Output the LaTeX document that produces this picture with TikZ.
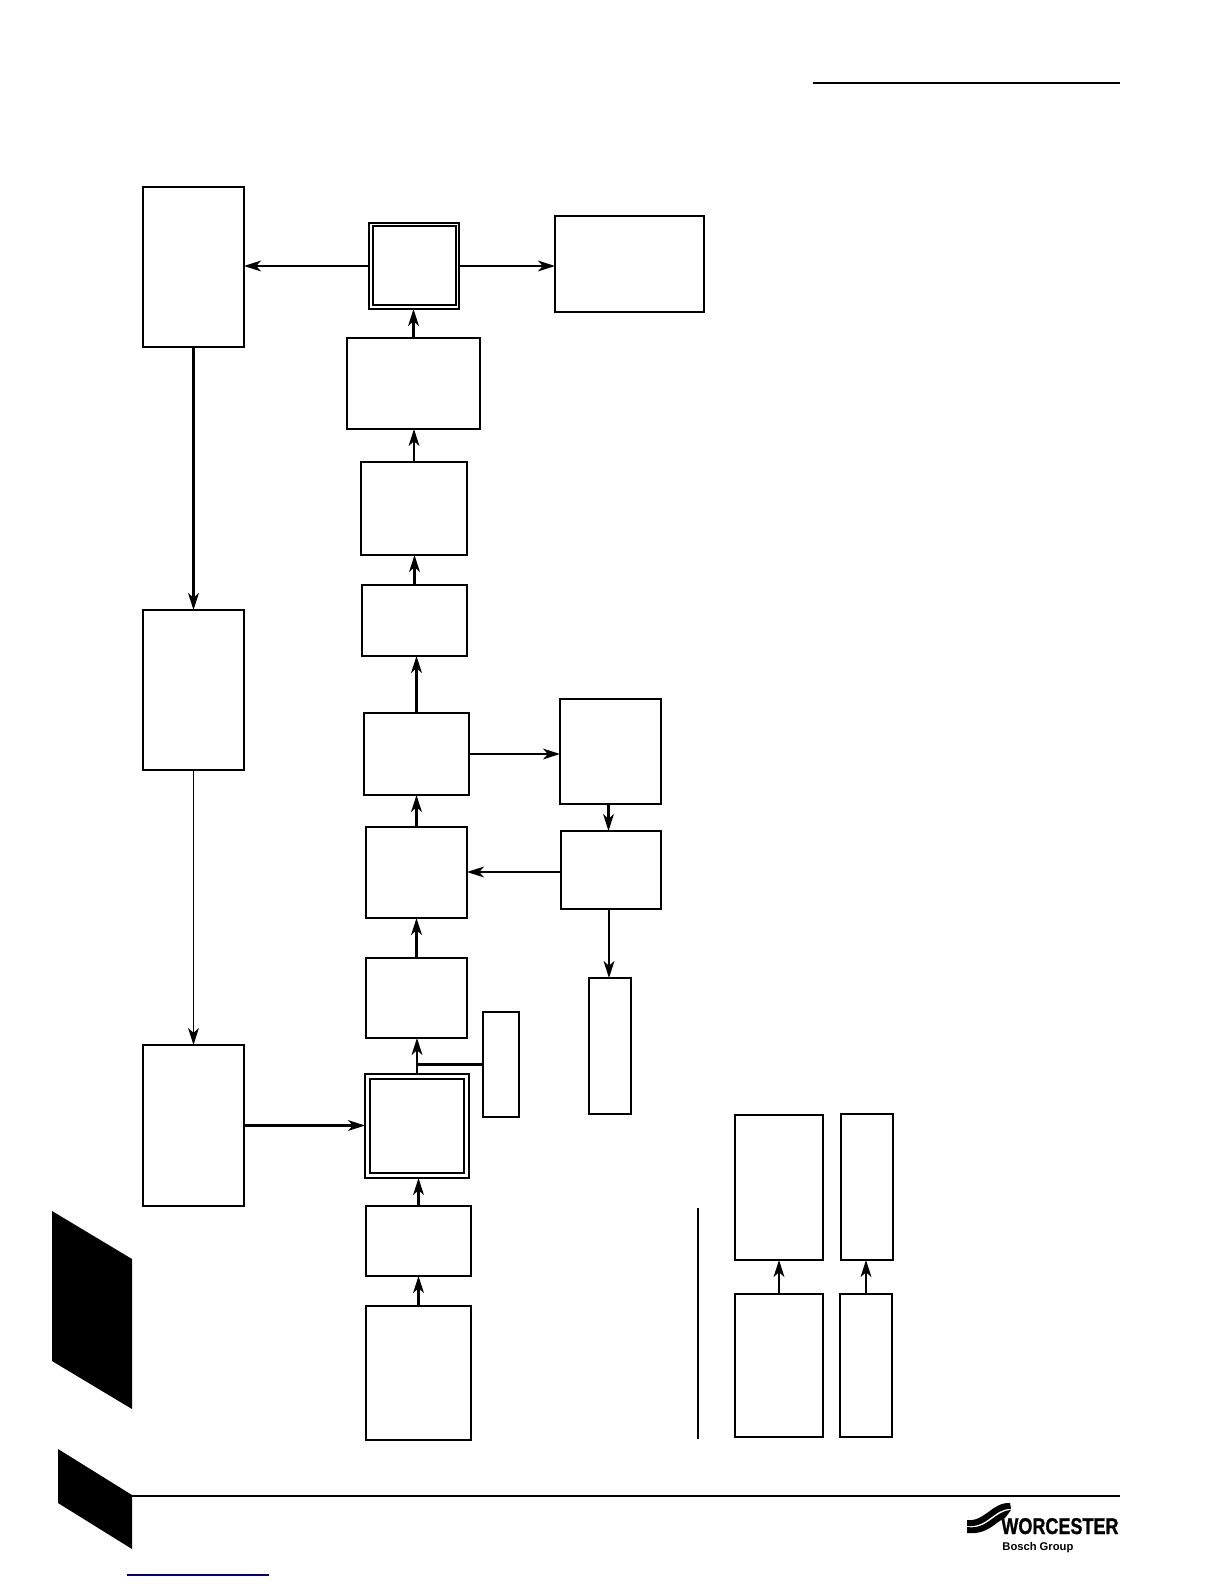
\documentclass[tikz,border=0pt]{standalone}
\usepackage{fontspec}
\setmainfont{Liberation Sans}
\usetikzlibrary{arrows.meta,fit}
\tikzset{
  flowbox/.style={draw,line width=1.3pt,inner sep=0pt,outer sep=0pt},
  thinbox/.style={flowbox,line width=0.7pt},
  heavybox/.style={flowbox,line width=1.45pt},
  flowline/.style={->,line width=1.1pt},
  thinline/.style={->,line width=0.6pt},
  rule/.style={line width=1.2pt}
}
\begin{document}
\begin{tikzpicture}[x=0.5pt,y=-0.5pt,>={Stealth[length=8.5pt,width=5.4pt,inset=2.4pt]}]
\useasboundingbox (0,0) rectangle (1224,1584);

% page furniture
\draw[rule] (813,83) -- (1120,83);
\draw[rule] (132,1496) -- (1120,1496);
\fill (52,1211) -- (132,1259) -- (132,1409) -- (52,1361) -- cycle;
\fill (58,1449) -- (132,1495) -- (132,1549) -- (58,1503) -- cycle;
\draw[line width=0.8pt,blue!50!black] (127,1575) -- (269,1575);

% left column
\node[flowbox,fit={(143,187) (244,347)}] (leftTop) {};
\node[flowbox,fit={(143,610) (244,770)}] (leftMid) {};
\node[flowbox,fit={(143,1045) (244,1206)}] (leftLow) {};

% centre column
\node[flowbox,fit={(369,223) (459,309)}] (endOuter) {};
\node[flowbox,fit={(373,226) (456,305)}] (endInner) {};
\node[flowbox,fit={(555,216) (704,312)}] (endRight) {};
\node[flowbox,fit={(347,338) (480,429)}] (stepA) {};
\node[flowbox,fit={(361,462) (467,555)}] (stepB) {};
\node[thinbox,fit={(362,585) (467,656)}] (stepC) {};
\node[flowbox,fit={(364,713) (469,795)}] (stepD) {};
\node[flowbox,fit={(366,827) (467,918)}] (stepE) {};
\node[flowbox,fit={(366,958) (467,1038)}] (stepF) {};
\node[heavybox,fit={(365,1074) (469,1178)}] (startOuter) {};
\node[heavybox,fit={(370,1079) (464,1173)}] (startInner) {};
\node[flowbox,fit={(366,1206) (471,1276)}] (stepG) {};
\node[flowbox,fit={(366,1306) (471,1440)}] (stepH) {};

% side boxes
\node[flowbox,fit={(483,1012) (519,1117)}] (tapBox) {};
\node[flowbox,fit={(560,699) (661,804)}] (sideA) {};
\node[flowbox,fit={(561,831) (661,909)}] (sideB) {};
\node[flowbox,fit={(589,978) (631,1114)}] (sideC) {};

% bottom right boxes
\node[flowbox,fit={(735,1115) (823,1260)}] (keyA) {};
\node[flowbox,fit={(841,1114) (893,1260)}] (keyB) {};
\node[flowbox,fit={(735,1294) (823,1437)}] (keyC) {};
\node[flowbox,fit={(840,1294) (892,1437)}] (keyD) {};
\coordinate (keyRuleTop) at (698,1208);
\coordinate (keyRuleEnd) at (698,1439);
\draw[rule] (keyRuleTop) -- (keyRuleEnd);

% connectors
\draw[flowline] (endOuter.west) -- (endOuter.west -| leftTop.east);
\draw[flowline] (endOuter.east) -- (endOuter.east -| endRight.west);
\draw[flowline] (leftTop.south) -- (leftTop.south |- leftMid.north);
\draw[thinline] (leftMid.south) -- (leftMid.south |- leftLow.north);
\draw[flowline] (leftLow.east) -- (leftLow.east -| startOuter.west);

\draw[flowline] (stepA.north) -- (stepA.north |- endOuter.south);
\draw[flowline] (stepB.north) -- (stepB.north |- stepA.south);
\draw[flowline] (stepC.north) -- (stepC.north |- stepB.south);
\draw[flowline] (stepD.north) -- (stepD.north |- stepC.south);
\draw[flowline] (stepE.north) -- (stepE.north |- stepD.south);
\draw[flowline] (stepF.north) -- (stepF.north |- stepE.south);
\draw[flowline] (startOuter.north) -- (startOuter.north |- stepF.south);
\draw[flowline] (stepG.north) -- (stepG.north |- startOuter.south);
\draw[flowline] (stepH.north) -- (stepH.north |- stepG.south);

\coordinate (tapJoin) at (tapBox.west -| startOuter.north);
\draw[line width=1.1pt] (tapBox.west) -- (tapJoin);

\draw[flowline] (stepD.east) -- (stepD.east -| sideA.west);
\draw[flowline] ([xshift=-1pt]sideA.south) -- ([xshift=-1pt]sideA.south |- sideB.north);
\draw[flowline] ([yshift=-1pt]sideB.west) -- ([yshift=-1pt]sideB.west -| stepE.east);
\draw[flowline] ([xshift=-1pt]sideB.south) -- ([xshift=-1pt]sideB.south |- sideC.north);

\draw[flowline] (keyC.north) -- (keyC.north |- keyA.south);
\draw[flowline] (keyD.north) -- (keyD.north |- keyB.south);

% logo
\fill (967,1520) .. controls (985,1522) and (992,1502) .. (1010,1503)
  -- (1011,1509) .. controls (994,1508) and (988,1528) .. (967,1526) -- cycle;
\fill (967,1527) .. controls (988,1530) and (994,1511) .. (1011,1510)
  -- (1005,1518) .. controls (995,1522) and (988,1535) .. (967,1533) -- cycle;
\node[inner sep=0pt,anchor=base west] (logoName) at (1001,1534)
  {\scalebox{0.79}[1]{\addfontfeature{FakeBold=1.2}\bfseries\fontsize{11.4pt}{12pt}\selectfont WORCESTER}};
\node[inner sep=0pt,anchor=base west] (logoGroup) at (1002,1550)
  {\bfseries\fontsize{5.6pt}{7pt}\selectfont Bosch Group};
\end{tikzpicture}
\end{document}
